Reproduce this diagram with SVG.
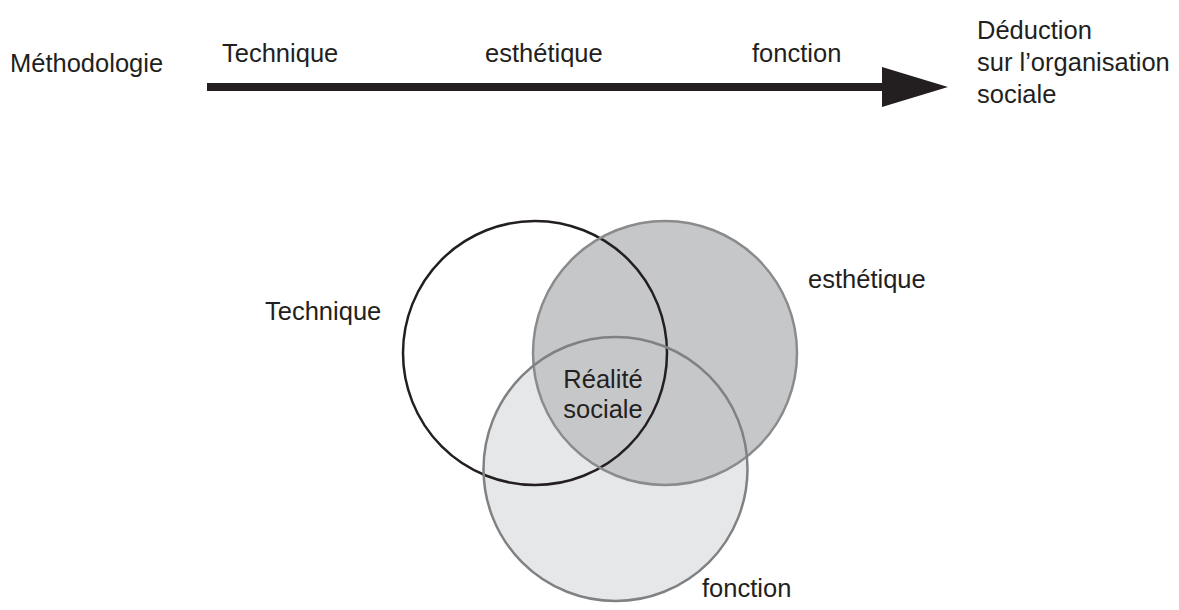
<svg xmlns="http://www.w3.org/2000/svg" width="1179" height="610" viewBox="0 0 1179 610">
<style>
text{font-family:"Liberation Sans",Arial,sans-serif;font-size:25.5px;fill:#231f20}
.c{stroke-width:2.5}
</style>
<rect width="1179" height="610" fill="#fff"/>
<g id="labels-top">
<text x="10" y="72">Méthodologie</text>
<text x="222" y="62">Technique</text>
<text x="485" y="62">esthétique</text>
<text x="752" y="62">fonction</text>
<text x="977" y="39">Déduction</text>
<text x="977" y="71">sur l’organisation</text>
<text x="977" y="103">sociale</text>
</g>
<g id="connectors">
<line x1="207" y1="87" x2="886" y2="87" stroke="#231f20" stroke-width="8"/>
<polygon points="882,67 948,87 882,107" fill="#231f20"/>
</g>
<g id="venn">
<circle id="fonction-fill" cx="615.5" cy="469" r="132" fill="#e6e7e8"/>
<circle id="esthetique-fill" cx="665" cy="353" r="132" fill="#c6c7c9"/>
<circle cx="535" cy="353" r="132" fill="none" stroke="#231f20" class="c" stroke-width="2.2"/>
<circle cx="665" cy="353" r="132" fill="none" stroke="#8a8b8d" class="c"/>
<circle cx="615.5" cy="469" r="132" fill="none" stroke="#808183" class="c"/>
</g>
<g id="labels-venn">
<text x="265" y="320">Technique</text>
<text x="808" y="288">esthétique</text>
<text x="702" y="597">fonction</text>
<text x="603" y="388" text-anchor="middle">Réalité</text>
<text x="603" y="418" text-anchor="middle">sociale</text>
</g>
</svg>
